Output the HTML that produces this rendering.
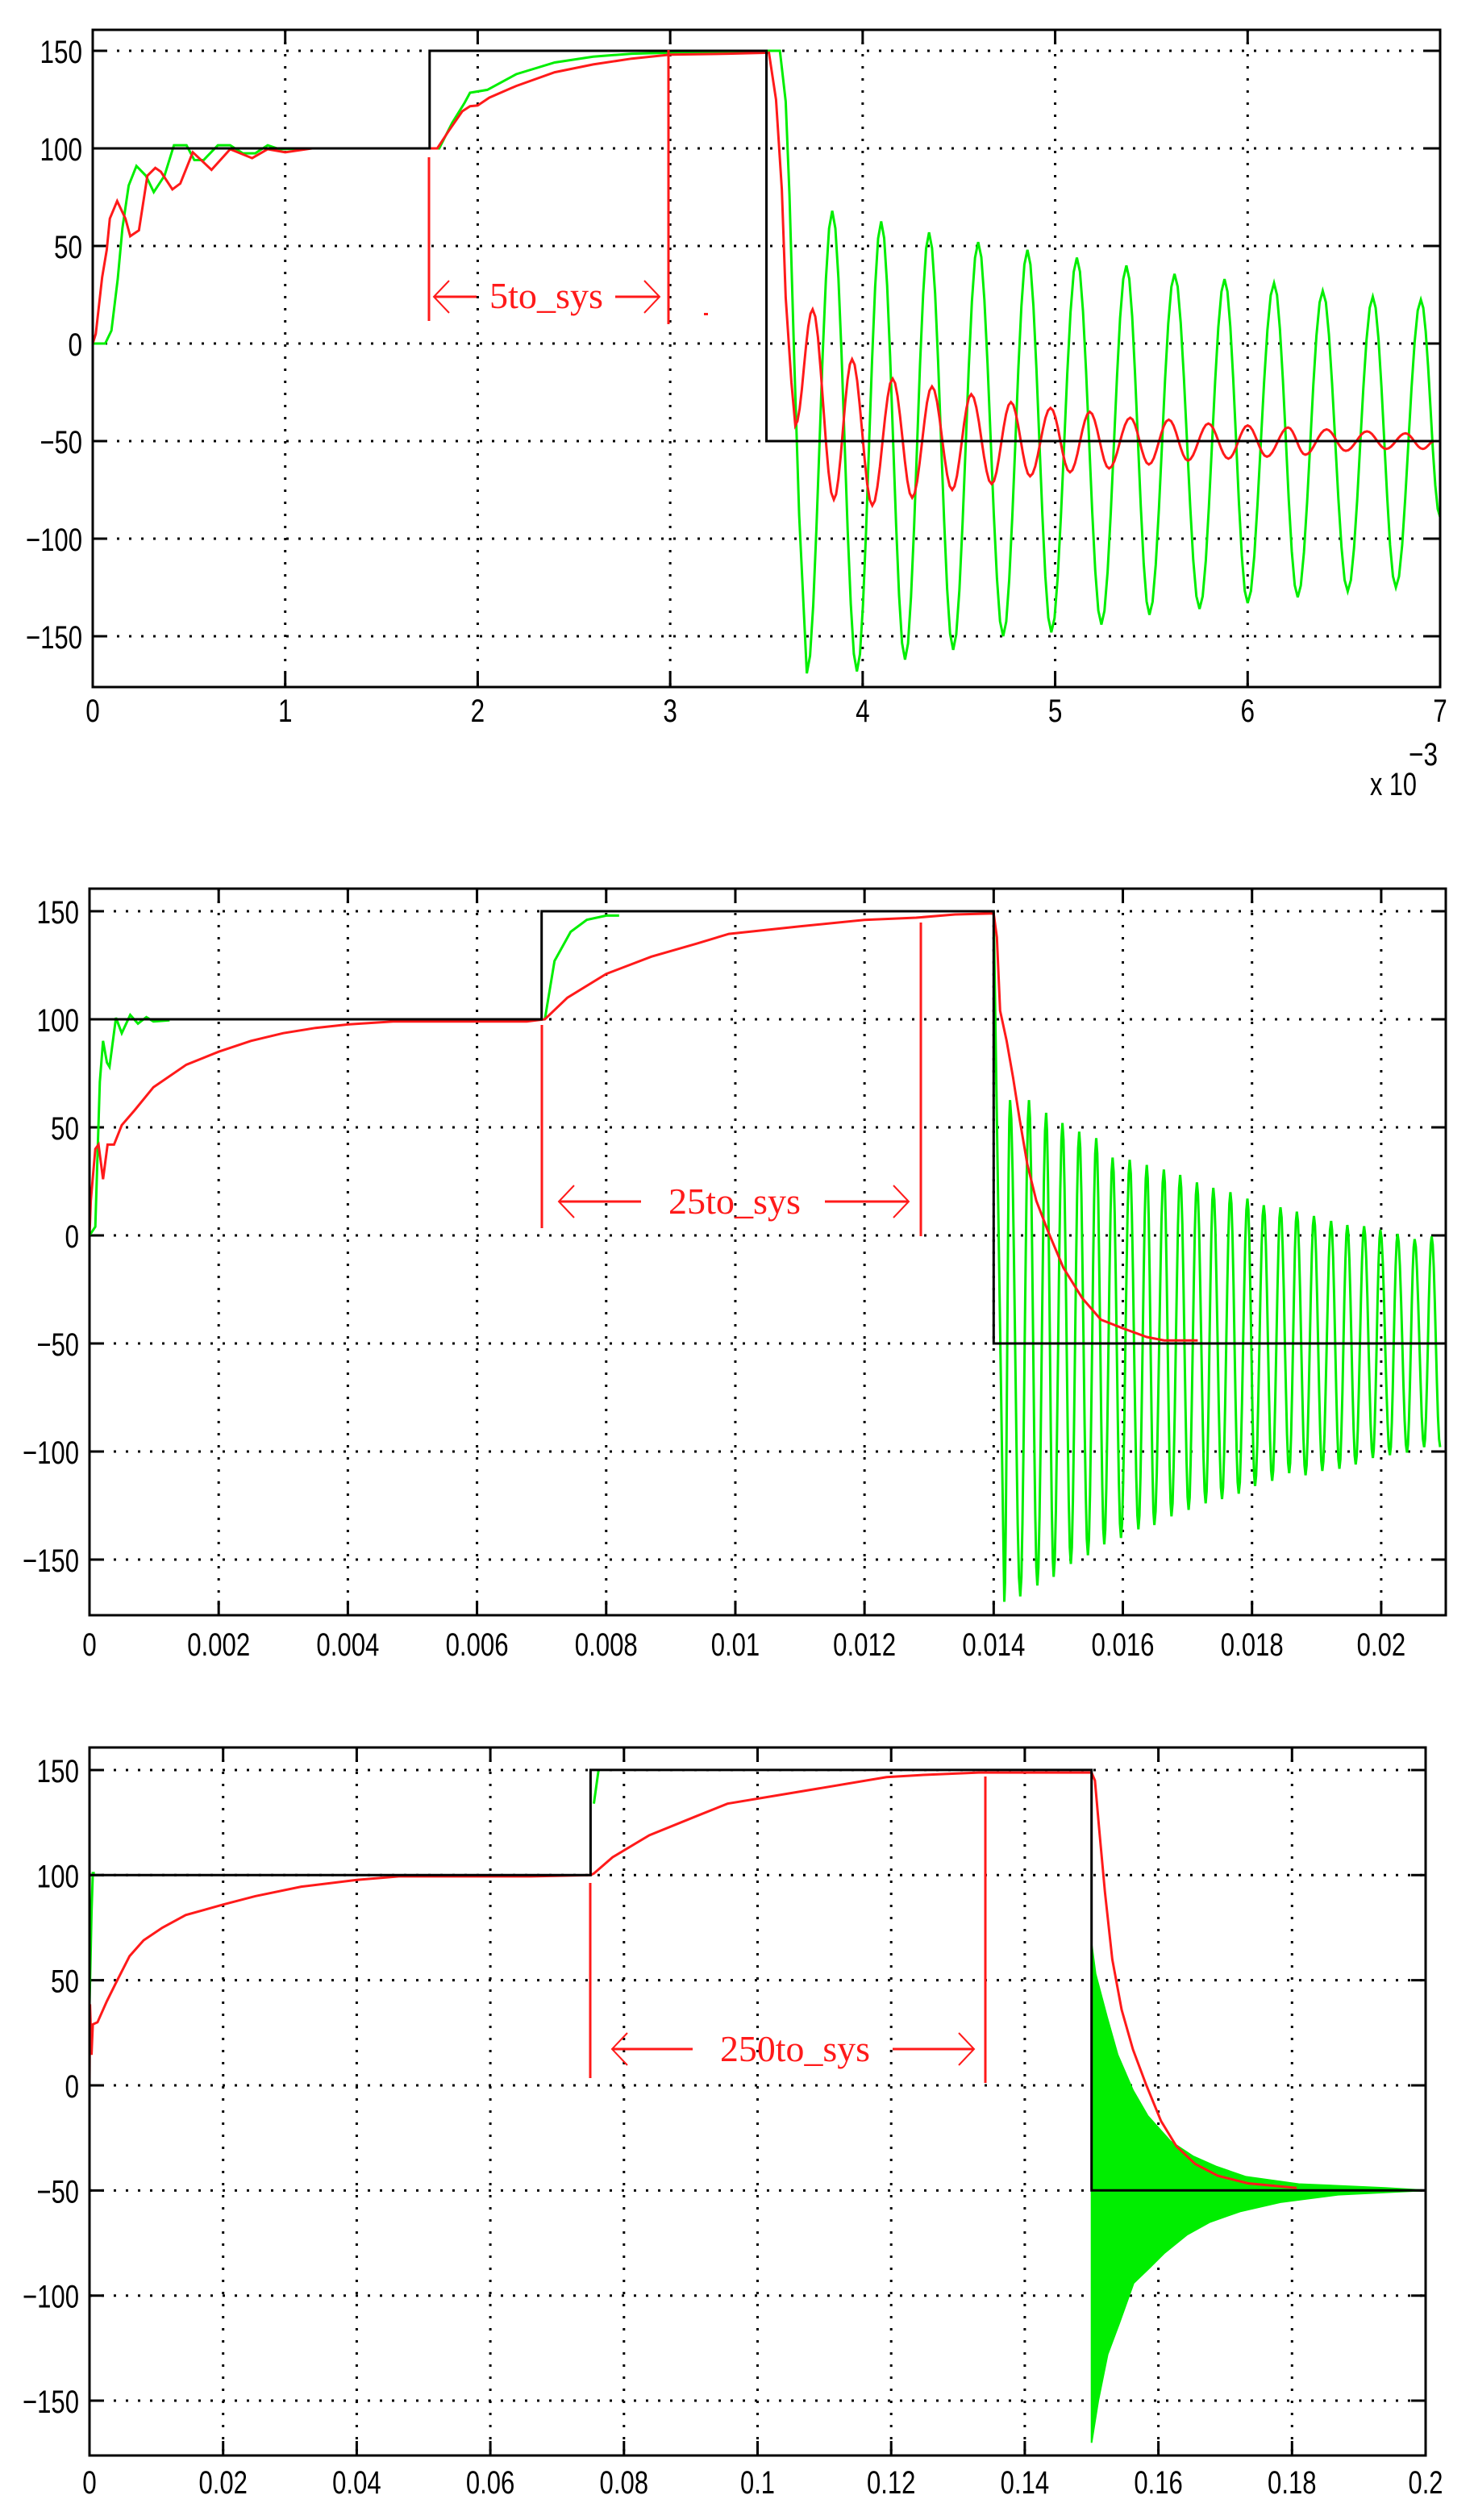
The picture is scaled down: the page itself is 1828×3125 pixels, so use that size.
<!DOCTYPE html>
<html><head><meta charset="utf-8"><style>
html,body{margin:0;padding:0;background:#fff;}
svg{display:block;}
</style></head><body>
<svg id="fig" width="1828" height="3125" viewBox="0 0 1828 3125" xmlns="http://www.w3.org/2000/svg" font-family="'Liberation Sans', sans-serif">
<rect x="0" y="0" width="1828" height="3125" fill="#fff"/>
</svg>
<script>
// ---------- Chart 1 data (x in units of 1e-3 s) ----------
const c1XTicks = [0,1,2,3,4,5,6,7];
const c1XTickLabels = ['0','1','2','3','4','5','6','7'];
const c1YTicks = [-150,-100,-50,0,50,100,150];
const c1YTickLabels = ['-150','-100','-50','0','50','100','150'];
const c1RefX = [0,1.75,1.75,3.5,3.5,7];
const c1RefY = [100,100,150,150,-50,-50];
const c1RedX = [0,0.016,0.049,0.073,0.089,0.127,0.17,0.195,0.24,0.284,0.325,0.354,0.414,0.455,0.52,0.617,0.714,0.828,0.909,1.0,1.14,1.77,1.79,1.85,1.92,1.96,2.0,2.06,2.2,2.4,2.6,2.8,3.0,3.3,3.513,3.55,3.58,3.6,3.63];
const c1RedY = [0,5,34,48,64,73,64,55,58,86,90,88,79,82,98,89,99.6,95,99.6,98,100,100,100,109,119,121.6,122,126,132,139,143,146,148,148.5,149,125,79,23.6,-20];
const c1RedOscX = [3.65,3.74,3.85,3.945,4.05,4.156,4.257,4.36,4.465,4.564,4.67,4.77,4.87,4.976,5.077,5.18,5.28,5.39,5.487,5.59,5.69,5.796,5.9,6.0,6.1,6.21,6.3,6.41,6.51,6.62,6.72,6.82,6.91,6.97];
const c1RedOscY = [-42,17.5,-80,-8,-83,-18,-79,-22,-75,-26,-72,-30,-68,-33,-66,-35,-64,-38,-62,-39,-60,-41,-59,-42,-58,-43,-57,-44,-55,-45,-54,-46,-54,-50];
const c1GreenX = [0,0.065,0.097,0.13,0.154,0.187,0.227,0.276,0.317,0.373,0.422,0.487,0.528,0.576,0.65,0.714,0.78,0.844,0.909,0.97,1.14,1.78,1.80,1.867,1.93,1.96,2.05,2.2,2.4,2.6,2.8,3.0,3.5,3.57,3.6,3.62,3.645,3.67];
const c1GreenY = [0,0,6.6,33,59,81,91,86,77.6,86,101.6,101.6,94,94,101.6,101.6,97.5,97.5,101.6,99.6,100,100,100,113,123,128.5,130,138,144,147,148.5,149,150,150,124,76,-10,-88];
const c1GreenOscX = [3.71,3.842,3.97,4.096,4.22,4.345,4.47,4.6,4.73,4.856,4.98,5.113,5.24,5.37,5.49,5.62,5.75,5.88,6.0,6.137,6.26,6.39,6.52,6.65,6.77,6.9,7.0];
const c1GreenOscY = [-169,68,-168,62.6,-162,57,-157,52,-150,48,-148,44,-144,40,-139,35.7,-136,33,-133,31,-130,27,-127,24,-125,22.5,-89];

// ---------- Chart 2 data (x in s) ----------
const c2XTicks = [0,0.002,0.004,0.006,0.008,0.01,0.012,0.014,0.016,0.018,0.02];
const c2XTickLabels = ['0','0.002','0.004','0.006','0.008','0.01','0.012','0.014','0.016','0.018','0.02'];
const c2YTicks = [-150,-100,-50,0,50,100,150];
const c2YTickLabels = ['-150','-100','-50','0','50','100','150'];
const c2RefX = [0,0.007,0.007,0.014,0.014,0.021];
const c2RefY = [100,100,150,150,-50,-50];
const c2RedX = [0,0.00002,0.00009,0.00014,0.00021,0.00028,0.00038,0.0005,0.0007,0.00099,0.0015,0.002,0.0025,0.003,0.0035,0.004,0.0047,0.00677,0.00705,0.0074,0.008,0.0087,0.0094,0.0099,0.011,0.012,0.0128,0.0134,0.014,0.01405,0.0141,0.0142,0.0143,0.0144,0.01452,0.01466,0.01484,0.01508,0.01537,0.01566,0.016,0.01637,0.01664,0.01716];
const c2RedY = [0,16,40,42,26,42,42,51,58,68.6,79,85,90,93.6,96,97.6,99,99,100,110,121,129,135,139.5,143,146,147,148.5,149,138,104,90,73,54,33,16,2,-15,-29,-39,-43,-47,-48.6,-48.6];
const c2GreenAX = [0,0.00009,0.00012,0.00016,0.00021,0.00027,0.00031,0.00041,0.0005,0.00063,0.00075,0.00088,0.00099,0.00124];
const c2GreenAY = [0,4,33,71,90,80,78,100.7,93.6,102,98,101,99,99.5];
const c2GreenBX = [0.00705,0.0072,0.00745,0.0077,0.008,0.0082];
const c2GreenBY = [100,127,140.5,146,148,148];
const c2GreenPeakX = [0.014253,0.014547,0.014812,0.015065,0.015324,0.015588,0.015841,0.016106,0.016371,0.016635,0.016888,0.017147,0.0174,0.017665,0.017929,0.018182,0.018441,0.018694,0.018959,0.019224,0.019476,0.019735,0.019988,0.020253,0.020518,0.020782];
const c2GreenPeakY = [62.6,62.6,56.7,52,48,45,36,35,32.6,30.5,28,24.5,22,20,17,14,13,11,9,6.7,4.8,4.3,2.6,0.7,-1.7,-0.5];
const c2GreenTroughX = [0.014165,0.014412,0.014676,0.014929,0.015194,0.015459,0.015712,0.015971,0.016241,0.016488,0.016753,0.017018,0.017282,0.017535,0.017794,0.018047,0.018312,0.018576,0.018829,0.019088,0.019353,0.019606,0.019871,0.020135,0.0204,0.020665,0.020912];
const c2GreenTroughY = [-169.5,-167,-162,-158,-152,-148,-143,-140,-136,-134,-130,-127,-124,-122,-119.5,-116,-113.6,-110,-111,-109,-108,-106,-103,-101.7,-100.5,-98,-98];

// ---------- Chart 3 data (x in s) ----------
const c3XTicks = [0,0.02,0.04,0.06,0.08,0.1,0.12,0.14,0.16,0.18,0.2];
const c3XTickLabels = ['0','0.02','0.04','0.06','0.08','0.1','0.12','0.14','0.16','0.18','0.2'];
const c3YTicks = [-150,-100,-50,0,50,100,150];
const c3YTickLabels = ['-150','-100','-50','0','50','100','150'];
const c3RefX = [0,0,0.075,0.075,0.15,0.15,0.2];
const c3RefY = [92,100,100,150,150,-50,-50];
const c3RedX = [0,0.00007,0.0003,0.0005,0.0012,0.0026,0.004,0.006,0.0081,0.0109,0.0144,0.02,0.0248,0.0317,0.04,0.0463,0.0661,0.075,0.0755,0.0783,0.0838,0.0908,0.0955,0.1193,0.1244,0.1331,0.15,0.1505,0.1511,0.152,0.1531,0.1545,0.1562,0.1582,0.1604,0.1627,0.1655,0.1689,0.1734,0.1807];
const c3RedY = [0,38.6,14.5,29,30,40,49,61.5,69,75,81,86,90,94.5,97.7,99.4,99.4,100,100.8,108.5,119,128,134,146.6,147.6,148.8,148.8,145,123,92,60,36,17,0,-17,-29,-37.4,-43,-46.6,-48.8];
const c3GreenAX = [0,0,0.0003,0.0005,0.0008];
const c3GreenAY = [38,38,82,101,101];
const c3GreenBX = [0.0755,0.0762];
const c3GreenBY = [134,150];
const c3GreenUpX = [0.15,0.1506,0.1523,0.1539,0.1562,0.1584,0.1618,0.1652,0.1686,0.1731,0.181,0.194,0.2];
const c3GreenUpY = [67.6,53,32.6,14.5,-2.4,-14.5,-26.6,-33.8,-38.6,-43.5,-47,-48.8,-50];
const c3GreenLoX = [0.15,0.151,0.1524,0.1541,0.1563,0.1586,0.1609,0.1643,0.1677,0.1722,0.1784,0.1869,0.2];
const c3GreenLoY = [-170,-150,-128,-113.5,-94,-87,-79.7,-71,-65,-60,-55.5,-52,-50];

const NS = 'http://www.w3.org/2000/svg';
const svg = document.getElementById('fig');
const RED = '#ff1a1a', GREEN = '#00ee00';

function mk(tag, attrs, parent) {
  const e = document.createElementNS(NS, tag);
  for (const k in attrs) e.setAttribute(k, attrs[k]);
  (parent || svg).appendChild(e);
  return e;
}
function labelWidth(s) {
  let w = 0;
  for (const ch of s) w += (ch === '.') ? 8 : 17.5;
  return w;
}

function makeChart(cfg) {
  const g = mk('g', {});
  
  
  const sx = v => cfg.L + (v - cfg.xmin) / (cfg.xmax - cfg.xmin) * (cfg.R - cfg.L);
  const sy = v => cfg.Y0 - v * cfg.k;
  const grid = mk('g', {stroke: '#000', 'stroke-width': 3, 'stroke-dasharray': '3 12', fill: 'none'}, g);
  
  
  cfg.xt.forEach(v => { if (v > cfg.xmin && v < cfg.xmax) mk('line', {x1: sx(v), x2: sx(v), y1: cfg.T, y2: cfg.B}, grid); });
  cfg.yt.forEach(v => mk('line', {x1: cfg.L, x2: cfg.R, y1: sy(v), y2: sy(v)}, grid));
  const ticks = mk('g', {stroke: '#000', 'stroke-width': 3}, g);
  
  
  cfg.xt.forEach(v => {
    mk('line', {x1: sx(v), x2: sx(v), y1: cfg.B, y2: cfg.B - 18}, ticks);
    mk('line', {x1: sx(v), x2: sx(v), y1: cfg.T, y2: cfg.T + 18}, ticks);
  });
  cfg.yt.forEach(v => {
    mk('line', {x1: cfg.L, x2: cfg.L + 18, y1: sy(v), y2: sy(v)}, ticks);
    mk('line', {x1: cfg.R, x2: cfg.R - 18, y1: sy(v), y2: sy(v)}, ticks);
  });
  cfg.xt.forEach((v, i) => {
    const s = cfg.xl[i];
    const t = mk('text', {x: sx(v), y: cfg.B + cfg.xlOff, 'text-anchor': 'middle', 'font-size': 40, fill: '#000', textLength: labelWidth(s), lengthAdjust: 'spacingAndGlyphs'}, g);
    t.textContent = s;
    
    
  });
  cfg.yt.forEach((v, i) => {
    const s = cfg.yl[i];
    const t = mk('text', {x: cfg.L - 13, y: sy(v) + 15, 'text-anchor': 'end', 'font-size': 40, fill: '#000', textLength: labelWidth(s), lengthAdjust: 'spacingAndGlyphs'}, g);
    t.textContent = s.replace('-', '\u2212');
    
    
  });
  const clip = 'clip-' + cfg.name;
  const cp = mk('clipPath', {id: clip}, g);
  mk('rect', {x: cfg.L, y: cfg.T, width: cfg.R - cfg.L, height: cfg.B - cfg.T}, cp);
  const plot = mk('g', {'clip-path': 'url(#' + clip + ')'}, g);
  
  
  return {g, plot, sx, sy};
}

function linePath(xs, ys, sx, sy) {
  return xs.map((x, i) => (i ? 'L' : 'M') + sx(x).toFixed(1) + ' ' + sy(ys[i]).toFixed(1)).join(' ');
}
function oscPath(xs, ys, sx, sy, cont) {
  let d = (cont ? 'L' : 'M') + sx(xs[0]).toFixed(1) + ' ' + sy(ys[0]).toFixed(1);
  for (let i = 1; i < xs.length; i++) {
    const x0 = xs[i-1], x1 = xs[i], y0 = ys[i-1], y1 = ys[i];
    for (let s = 1; s <= 8; s++) {
      const f = s / 8, c = (1 - Math.cos(Math.PI * f)) / 2;
      d += ' L' + sx(x0 + (x1 - x0) * f).toFixed(1) + ' ' + sy(y0 + (y1 - y0) * c).toFixed(1);
    }
  }
  return d;
}
function merge(ax, ay, bx, by) {
  const pts = [];
  ax.forEach((x, i) => pts.push([x, ay[i]]));
  bx.forEach((x, i) => pts.push([x, by[i]]));
  pts.sort((a, b) => a[0] - b[0]);
  return [pts.map(p => p[0]), pts.map(p => p[1])];
}
function frame(c, cfg) {
  const f = mk('rect', {x: cfg.L, y: cfg.T, width: cfg.R - cfg.L, height: cfg.B - cfg.T, fill: 'none', stroke: '#000', 'stroke-width': 3}, c.g);
  
  
}
function series(c, d, color, w, name) {
  const p = mk('path', {d: d, fill: 'none', stroke: color, 'stroke-width': w, 'stroke-linejoin': 'miter'}, c.plot);
  
  
  return p;
}
function annot(c, a) {
  const g = mk('g', {stroke: RED, 'stroke-width': 3, fill: 'none'}, c.g);
  
  
  mk('line', {x1: a.v1, x2: a.v1, y1: a.v1t, y2: a.v1b}, g);
  mk('line', {x1: a.v2, x2: a.v2, y1: a.v2t, y2: a.v2b}, g);
  mk('line', {x1: a.la1, x2: a.la2, y1: a.ay, y2: a.ay}, g);
  mk('polyline', {points: (a.la1 + 19) + ',' + (a.ay - 20) + ' ' + a.la1 + ',' + a.ay + ' ' + (a.la1 + 19) + ',' + (a.ay + 20), 'stroke-width': 2}, g);
  mk('line', {x1: a.ra1, x2: a.ra2, y1: a.ay, y2: a.ay}, g);
  mk('polyline', {points: (a.ra2 - 19) + ',' + (a.ay - 20) + ' ' + a.ra2 + ',' + a.ay + ' ' + (a.ra2 - 19) + ',' + (a.ay + 20), 'stroke-width': 2}, g);
  const t = mk('text', {x: a.tx, y: a.ty, fill: RED, stroke: 'none', 'font-family': "'Liberation Serif', serif", 'font-size': 46, textLength: a.tw, lengthAdjust: 'spacingAndGlyphs'}, c.g);
  t.textContent = a.text;
  
  
}

// ---- Chart 1 ----
const cfg1 = {name: 'chart-5to-sys', L: 115, T: 37, R: 1786, B: 852, xmin: 0, xmax: 7, Y0: 426, k: 2.42, xt: c1XTicks, xl: c1XTickLabels, yt: c1YTicks, yl: c1YTickLabels, xlOff: 43};
const ch1 = makeChart(cfg1);
series(ch1, linePath(c1GreenX, c1GreenY, ch1.sx, ch1.sy) + ' ' + oscPath(c1GreenOscX, c1GreenOscY, ch1.sx, ch1.sy, true), GREEN, 3, 'green-series');
series(ch1, linePath(c1RedX, c1RedY, ch1.sx, ch1.sy) + ' ' + oscPath(c1RedOscX, c1RedOscY, ch1.sx, ch1.sy, true), RED, 3, 'red-series');
series(ch1, linePath(c1RefX, c1RefY, ch1.sx, ch1.sy), '#000', 3, 'reference-step');
frame(ch1, cfg1);
annot(ch1, {v1: 532, v1t: 195, v1b: 398, v2: 829, v2t: 62, v2b: 402, ay: 368, la1: 538, la2: 591, ra1: 763, ra2: 818, tx: 607, ty: 382, tw: 141, text: '5to_sys'});
mk('rect', {x: 873, y: 388, width: 5, height: 3, fill: RED});
const e1 = mk('text', {x: 1699, y: 986, 'font-size': 40, fill: '#000', textLength: 58, lengthAdjust: 'spacingAndGlyphs'});
e1.textContent = 'x 10';


const e2 = mk('text', {x: 1747, y: 949, 'font-size': 40, fill: '#000', textLength: 36, lengthAdjust: 'spacingAndGlyphs'});
e2.textContent = '\u22123';



// ---- Chart 2 ----
const cfg2 = {name: 'chart-25to-sys', L: 111, T: 1102, R: 1793, B: 2003, xmin: 0, xmax: 0.021, Y0: 1532, k: 2.68, xt: c2XTicks, xl: c2XTickLabels, yt: c2YTicks, yl: c2YTickLabels, xlOff: 50};
const ch2 = makeChart(cfg2);
const m2 = merge(c2GreenPeakX, c2GreenPeakY, c2GreenTroughX, c2GreenTroughY);
series(ch2, linePath(c2GreenAX, c2GreenAY, ch2.sx, ch2.sy) + ' ' + linePath(c2GreenBX, c2GreenBY, ch2.sx, ch2.sy) + ' M' + ch2.sx(0.014) + ' ' + ch2.sy(150) + ' ' + oscPath(m2[0], m2[1], ch2.sx, ch2.sy, true), GREEN, 3, 'green-series');
series(ch2, linePath(c2RedX, c2RedY, ch2.sx, ch2.sy), RED, 3, 'red-series');
series(ch2, linePath(c2RefX, c2RefY, ch2.sx, ch2.sy), '#000', 3, 'reference-step');
frame(ch2, cfg2);
annot(ch2, {v1: 672, v1t: 1271, v1b: 1523, v2: 1142, v2t: 1144, v2b: 1533, ay: 1490, la1: 693, la2: 795, ra1: 1023, ra2: 1127, tx: 829, ty: 1505, tw: 164, text: '25to_sys'});

// ---- Chart 3 ----
const cfg3 = {name: 'chart-250to-sys', L: 111, T: 2167, R: 1768, B: 3045, xmin: 0, xmax: 0.2, Y0: 2586, k: 2.607, xt: c3XTicks, xl: c3XTickLabels, yt: c3YTicks, yl: c3YTickLabels, xlOff: 47};
const ch3 = makeChart(cfg3);
const envX = c3GreenUpX.concat(c3GreenLoX.slice().reverse());
const envY = c3GreenUpY.concat(c3GreenLoY.slice().reverse());
const env = mk('path', {d: linePath(envX, envY, ch3.sx, ch3.sy) + ' Z', fill: GREEN, stroke: GREEN, 'stroke-width': 2}, ch3.plot);


series(ch3, linePath(c3GreenAX, c3GreenAY, ch3.sx, ch3.sy) + ' ' + linePath(c3GreenBX, c3GreenBY, ch3.sx, ch3.sy), GREEN, 3, 'green-series');
series(ch3, linePath(c3RedX, c3RedY, ch3.sx, ch3.sy), RED, 3, 'red-series');
series(ch3, linePath(c3RefX, c3RefY, ch3.sx, ch3.sy), '#000', 3, 'reference-step');
frame(ch3, cfg3);
annot(ch3, {v1: 732, v1t: 2335, v1b: 2577, v2: 1222, v2t: 2203, v2b: 2583, ay: 2541, la1: 759, la2: 859, ra1: 1107, ra2: 1208, tx: 893, ty: 2556, tw: 186, text: '250to_sys'});
</script>
</body></html>
